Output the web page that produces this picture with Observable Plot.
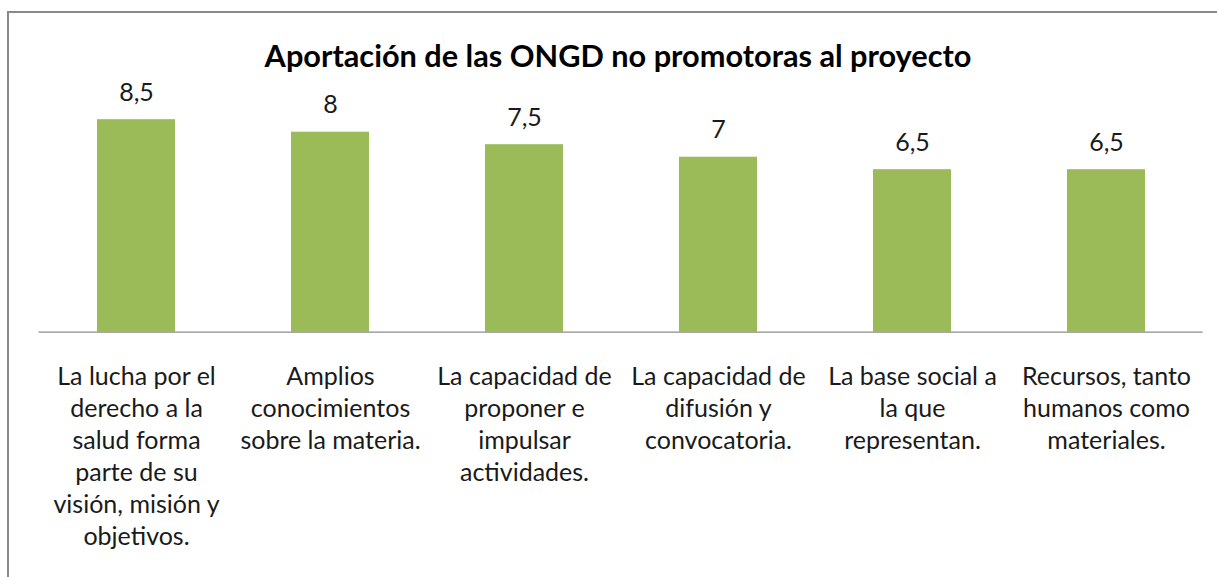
<!DOCTYPE html>
<html>
<head>
<meta charset="utf-8">
<script src="https://cdn.jsdelivr.net/npm/d3@7"></script>
<script src="https://cdn.jsdelivr.net/npm/@observablehq/plot@0.6"></script>
<style>
  html, body { margin: 0; padding: 0; background: #fff; overflow: hidden; width: 1217px; height: 577px; }
  #wrap { position: relative; width: 1217px; height: 577px; }
  #frame { position: absolute; left: 7px; top: 11px; width: 1400px; height: 800px; border: 2px solid #8a8a8a; box-sizing: border-box; pointer-events: none; }
  #chart { position: absolute; left: 0; top: 0; }
</style>
</head>
<body>
<div id="wrap"><div id="chart"></div><div id="frame"></div></div>
<script>
const title = "Aportación de las ONGD no promotoras al proyecto";
const categories = [
  "La lucha por el\nderecho a la\nsalud forma\nparte de su\nvisión, misión y\nobjetivos.",
  "Amplios\nconocimientos\nsobre la materia.",
  "La capacidad de\nproponer e\nimpulsar\nactividades.",
  "La capacidad de\ndifusión y\nconvocatoria.",
  "La base social a\nla que\nrepresentan.",
  "Recursos, tanto\nhumanos como\nmateriales."
];
const values = [8.5, 8, 7.5, 7, 6.5, 6.5];

const data = categories.map((c, i) => ({cat: c, value: values[i]}));
const fmt = v => v.toLocaleString("es-ES");
const font = "Lato, 'Open Sans', sans-serif";

const chart = Plot.plot({
  width: 1217,
  height: 577,
  marginLeft: 38.5,
  marginRight: 14.5,
  marginTop: 81.7,
  marginBottom: 245.3,
  style: {fontFamily: font, background: "transparent", color: "#1a1a1a"},
  x: {domain: categories, paddingInner: 0.6, paddingOuter: 0.3, label: null},
  y: {domain: [0, 10], axis: null},
  marks: [
    Plot.barY(data, {x: "cat", y: "value", fill: "#9bbb59"}),
    Plot.ruleY([0], {stroke: "#8c8c8c", strokeWidth: 1.2}),
    Plot.text(data, {x: "cat", y: "value", text: d => fmt(d.value), lineAnchor: "bottom", dy: -19, fontSize: 25, fill: "#1a1a1a"}),
    Plot.axisX({tickSize: 0, tickPadding: 30, fontSize: 25, lineHeight: 32.1 / 25, label: null, fill: "#1a1a1a"}),
    Plot.text([title], {frameAnchor: "top", dy: -25, dx: -3, lineAnchor: "middle", fontSize: 30.7, fontWeight: "bold", fill: "#000"})
  ]
});
document.getElementById("chart").appendChild(chart);
</script>
</body>
</html>
